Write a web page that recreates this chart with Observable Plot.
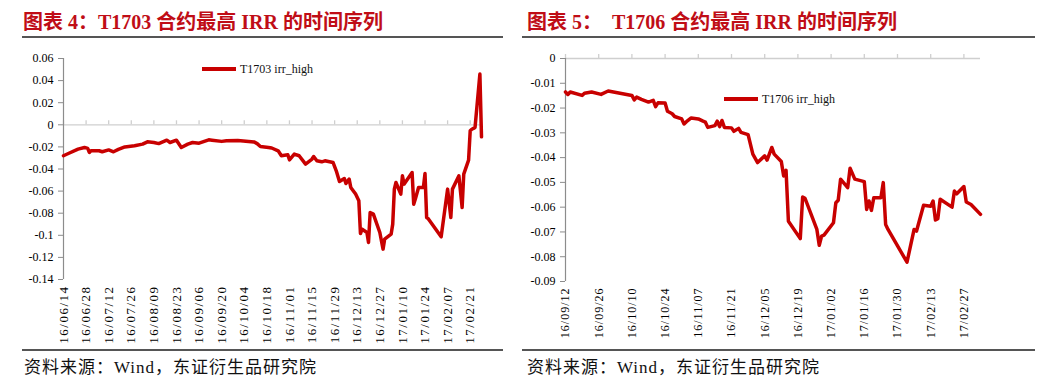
<!DOCTYPE html>
<html><head><meta charset="utf-8">
<script src="https://cdn.jsdelivr.net/npm/d3@7"></script>
<script src="https://cdn.jsdelivr.net/npm/@observablehq/plot@0.6"></script>
<style>
body{margin:0;background:#fff;width:1042px;height:390px;overflow:hidden;position:relative;font-family:"Liberation Serif","Noto Sans CJK SC",serif;}
.title{position:absolute;top:9px;font-size:20px;font-weight:bold;color:#c00d16;white-space:pre;line-height:26px;font-family:"Liberation Serif","Noto Sans CJK SC",serif;}
.rule{position:absolute;height:2px;background:#555;}
.caption{position:absolute;top:357px;font-size:17px;letter-spacing:1px;color:#111;white-space:pre;line-height:22px;}
.chart{position:absolute;top:48px;}
.legend{position:absolute;font-size:12px;display:flex;align-items:center;color:#111;height:16px;white-space:pre;}
.legend .sw{display:inline-block;width:34px;height:3.5px;background:#c80000;margin-right:4px}
#left [aria-label="x-axis tick label"] text{letter-spacing:1.5px}
#right [aria-label="x-axis tick label"] text{letter-spacing:1px}
</style></head><body>
<div class="title" style="left:23px">图表 4：T1703 合约最高 IRR 的时间序列</div>
<div class="rule" style="left:22px;width:481px;top:36px"></div>
<div class="title" style="left:527px">图表 5：  T1706 合约最高 IRR 的时间序列</div>
<div class="rule" style="left:522px;width:513px;top:36px"></div>
<div class="chart" id="left" style="left:0px"></div>
<div class="chart" id="right" style="left:520px"></div>
<div class="legend" style="left:202px;top:61px"><span class="sw"></span><span id="legL"></span></div>
<div class="legend" style="left:724px;top:91px"><span class="sw"></span><span id="legR"></span></div>
<div class="rule" style="left:22px;width:481px;top:349px"></div>
<div class="rule" style="left:522px;width:513px;top:349px"></div>
<div class="caption" style="left:24px">资料来源：Wind，东证衍生品研究院</div>
<div class="caption" style="left:527px">资料来源：Wind，东证衍生品研究院</div>
<script>
const leftSeriesName = "T1703 irr_high";
const rightSeriesName = "T1706 irr_high";

const leftDates = ["2016-06-14","2016-06-17","2016-06-23","2016-06-27","2016-06-29","2016-06-30","2016-07-01","2016-07-06","2016-07-08","2016-07-12","2016-07-15","2016-07-18","2016-07-22","2016-07-28","2016-08-02","2016-08-05","2016-08-09","2016-08-12","2016-08-17","2016-08-19","2016-08-23","2016-08-26","2016-08-30","2016-09-02","2016-09-06","2016-09-12","2016-09-14","2016-09-20","2016-09-23","2016-09-30","2016-10-10","2016-10-12","2016-10-14","2016-10-19","2016-10-21","2016-10-25","2016-10-27","2016-10-31","2016-11-01","2016-11-04","2016-11-07","2016-11-11","2016-11-15","2016-11-16","2016-11-18","2016-11-21","2016-11-23","2016-11-28","2016-11-30","2016-12-02","2016-12-05","2016-12-06","2016-12-08","2016-12-09","2016-12-12","2016-12-14","2016-12-15","2016-12-16","2016-12-19","2016-12-20","2016-12-21","2016-12-23","2016-12-27","2016-12-29","2016-12-30","2017-01-03","2017-01-04","2017-01-05","2017-01-06","2017-01-09","2017-01-10","2017-01-11","2017-01-16","2017-01-17","2017-01-18","2017-01-20","2017-01-23","2017-01-24","2017-01-25","2017-01-26","2017-02-03","2017-02-07","2017-02-09","2017-02-10","2017-02-14","2017-02-16","2017-02-17","2017-02-20","2017-02-21","2017-02-22","2017-02-23","2017-02-24","2017-02-27","2017-02-28"];
const leftValues = [-0.028,-0.026,-0.022,-0.0205,-0.0214,-0.025,-0.0235,-0.0235,-0.0244,-0.0227,-0.0244,-0.0223,-0.020,-0.019,-0.0175,-0.0154,-0.016,-0.017,-0.0139,-0.016,-0.0139,-0.0205,-0.0175,-0.016,-0.0166,-0.0136,-0.0139,-0.015,-0.0145,-0.0142,-0.0155,-0.017,-0.0196,-0.0205,-0.021,-0.0235,-0.028,-0.0272,-0.0317,-0.0265,-0.028,-0.0356,-0.031,-0.0287,-0.0326,-0.0335,-0.0326,-0.0341,-0.0416,-0.0513,-0.0486,-0.0531,-0.0491,-0.0567,-0.0627,-0.0688,-0.0984,-0.0944,-0.0975,-0.1065,-0.0794,-0.0808,-0.0975,-0.1125,-0.1035,-0.099,-0.0899,-0.0582,-0.0522,-0.0627,-0.0462,-0.0537,-0.0432,-0.0718,-0.0672,-0.0567,-0.0567,-0.0441,-0.0839,-0.085,-0.1014,-0.0582,-0.0839,-0.0582,-0.0462,-0.0748,-0.0446,-0.032,-0.0054,-0.004,-0.0033,-0.0024,0.0459,-0.0109];

const rightDates = ["2016-09-12","2016-09-13","2016-09-14","2016-09-19","2016-09-20","2016-09-23","2016-09-27","2016-09-30","2016-10-10","2016-10-11","2016-10-12","2016-10-14","2016-10-17","2016-10-19","2016-10-20","2016-10-21","2016-10-24","2016-10-25","2016-10-27","2016-10-28","2016-10-31","2016-11-01","2016-11-02","2016-11-04","2016-11-07","2016-11-09","2016-11-10","2016-11-11","2016-11-14","2016-11-15","2016-11-16","2016-11-17","2016-11-18","2016-11-21","2016-11-22","2016-11-24","2016-11-25","2016-11-28","2016-11-30","2016-12-02","2016-12-05","2016-12-06","2016-12-08","2016-12-09","2016-12-12","2016-12-13","2016-12-14","2016-12-15","2016-12-20","2016-12-21","2016-12-22","2016-12-27","2016-12-28","2016-12-29","2016-12-30","2017-01-03","2017-01-04","2017-01-05","2017-01-06","2017-01-09","2017-01-10","2017-01-12","2017-01-16","2017-01-17","2017-01-18","2017-01-19","2017-01-20","2017-01-23","2017-01-24","2017-01-25","2017-01-26","2017-02-03","2017-02-06","2017-02-07","2017-02-10","2017-02-13","2017-02-14","2017-02-15","2017-02-16","2017-02-17","2017-02-22","2017-02-23","2017-02-24","2017-02-27","2017-02-28","2017-03-02","2017-03-06"];
const rightValues = [-0.0135,-0.0145,-0.0135,-0.0149,-0.014,-0.0135,-0.0145,-0.0131,-0.0149,-0.0167,-0.0156,-0.0165,-0.0176,-0.0169,-0.0194,-0.0179,-0.018,-0.0213,-0.0223,-0.0234,-0.0244,-0.0264,-0.0255,-0.024,-0.0244,-0.0253,-0.0257,-0.0278,-0.0271,-0.0253,-0.0275,-0.025,-0.0278,-0.028,-0.0294,-0.0282,-0.0298,-0.0307,-0.0386,-0.042,-0.0393,-0.041,-0.0359,-0.0386,-0.0416,-0.0474,-0.0451,-0.0657,-0.0727,-0.0559,-0.0564,-0.069,-0.0754,-0.0717,-0.0713,-0.0663,-0.0582,-0.0572,-0.0487,-0.0521,-0.0443,-0.0487,-0.0497,-0.0609,-0.0575,-0.0613,-0.0562,-0.0562,-0.0501,-0.067,-0.069,-0.0822,-0.069,-0.0697,-0.0592,-0.0596,-0.0575,-0.0652,-0.0647,-0.0568,-0.06,-0.0535,-0.0546,-0.0517,-0.0579,-0.0589,-0.0629];

const leftXTicks = ["2016-06-14","2016-06-28","2016-07-12","2016-07-26","2016-08-09","2016-08-23","2016-09-06","2016-09-20","2016-10-04","2016-10-18","2016-11-01","2016-11-15","2016-11-29","2016-12-13","2016-12-27","2017-01-10","2017-01-24","2017-02-07","2017-02-21"];
const rightXTicks = ["2016-09-12","2016-09-26","2016-10-10","2016-10-24","2016-11-07","2016-11-21","2016-12-05","2016-12-19","2017-01-02","2017-01-16","2017-01-30","2017-02-13","2017-02-27"];
const leftYTicks = [0.06,0.04,0.02,0,-0.02,-0.04,-0.06,-0.08,-0.1,-0.12,-0.14];
const rightYTicks = [0,-0.01,-0.02,-0.03,-0.04,-0.05,-0.06,-0.07,-0.08,-0.09];

document.getElementById("legL").textContent = leftSeriesName;
document.getElementById("legR").textContent = rightSeriesName;

const parse = d3.utcParse("%Y-%m-%d");
const fmtY = d => d === 0 ? "0" : String(+d.toFixed(2));
const fmtX = d3.utcFormat("%y/%m/%d");
const RED = "#c80000";

function chart(dates, values, xTicks, yTicks, opts) {
  const data = dates.map((d, i) => ({date: parse(d), value: values[i]}));
  const ticks = xTicks.map(parse);
  const x0 = data[0].date, x1 = data[data.length - 1].date;
  return Plot.plot({
    width: opts.width, height: 300,
    marginLeft: opts.ml, marginRight: opts.mr, marginTop: 10, marginBottom: opts.mb,
    style: {fontFamily: '"Liberation Serif", serif', fontSize: "12px", color: "#000", background: "transparent", overflow: "visible"},
    x: {type: "utc", domain: [x0, x1], label: null},
    y: {domain: [yTicks[yTicks.length - 1], yTicks[0]], label: null},
    marks: [
      Plot.ruleY([0], {stroke: "#cfcfcf", strokeWidth: 1.3}),
      Plot.ruleX(ticks, {y1: 0, y2: 0, insetBottom: 4, stroke: "#cfcfcf", strokeWidth: 1.3}),
      Plot.ruleX([x0], {stroke: "#8c8c8c", strokeWidth: 1.2}),
      Plot.axisY({ticks: yTicks, tickFormat: fmtY, tickSize: 5, tickPadding: 5, stroke: "#8c8c8c", fill: "#000", fontSize: opts.yfs, label: null}),
      Plot.axisX({ticks: ticks, tickFormat: fmtX, tickRotate: -90, tickSize: 0, tickPadding: 6, fill: "#000", fontSize: opts.xfs, label: null}),
      Plot.line(data, {x: "date", y: "value", stroke: RED, strokeWidth: 3.5, strokeLinejoin: "round", strokeLinecap: "round"})
    ]
  });
}

document.getElementById("left").append(chart(leftDates, leftValues, leftXTicks, leftYTicks, {width: 500, ml: 63, mr: 19, mb: 69, xfs: 13, yfs: 12}));
document.getElementById("right").append(chart(rightDates, rightValues, rightXTicks, rightYTicks, {width: 522, ml: 45, mr: 62, mb: 67, xfs: 12, yfs: 12}));
</script>
</body></html>
